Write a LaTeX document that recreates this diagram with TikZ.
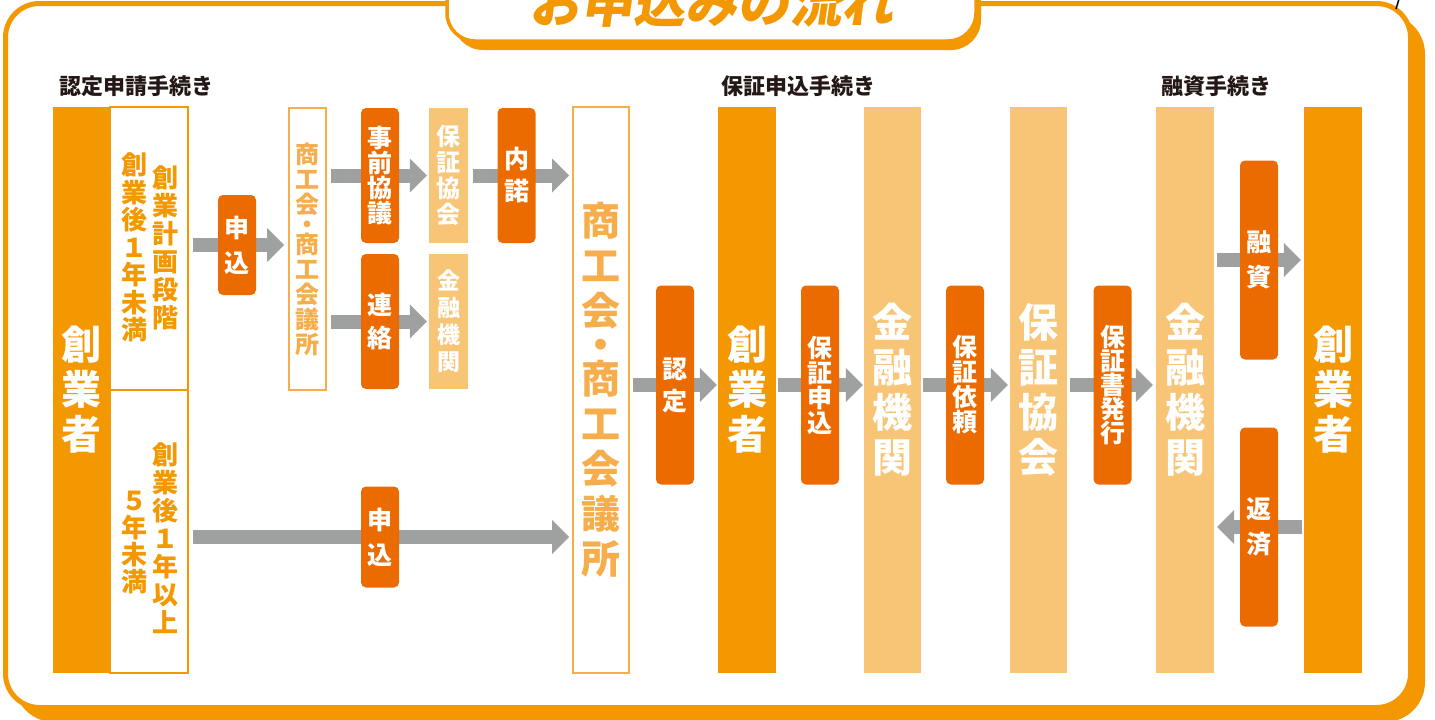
\documentclass[tikz,border=0pt]{standalone}
\usepackage{fontspec}
\setmainfont{Noto Sans CJK JP}
\usetikzlibrary{arrows.meta}
\definecolor{orng}{HTML}{F39800}
\definecolor{dorng}{HTML}{EC6B00}
\definecolor{lorng}{HTML}{F8C475}
\definecolor{borng}{HTML}{F6AD4B}
\definecolor{agray}{HTML}{9FA0A0}
\definecolor{ink}{HTML}{231815}
\pgfdeclarelayer{bg}
\pgfdeclarelayer{arr}
\pgfsetlayers{bg,arr,main}
\tikzset{
  col/.style={rectangle, inner sep=0pt, minimum width=57pt, minimum height=566pt, align=center, text=white, font=\bfseries\fontsize{40}{45}\selectfont},
  ocol/.style={col, fill=orng},
  lcol/.style={col, fill=lorng},
  lsmall/.style={rectangle, inner sep=0pt, minimum width=39pt, minimum height=135pt, fill=lorng, align=center, text=white, font=\bfseries\fontsize{24}{26}\selectfont},
  lbl/.style={rectangle, rounded corners=5pt, fill=dorng, inner sep=0pt, minimum width=38pt, minimum height=199pt, align=center, text=white, font=\bfseries\fontsize{25}{25}\selectfont},
  wbox/.style={rectangle, draw=orng, line width=2pt, fill=white, inner sep=0pt, minimum width=78pt, minimum height=283pt},
  obox/.style={rectangle, draw=borng, line width=2pt, fill=white, text=borng, inner sep=0pt, align=center},
  vtxt/.style={inner sep=0pt, align=center, text=orng, font=\bfseries\fontsize{26}{28}\selectfont},
  sect/.style={inner sep=0pt, anchor=west, text=ink, font=\bfseries\fontsize{22}{22}\selectfont},
  garrow/.style={draw=agray, line width=14pt, -{Triangle[width=34pt 0 0, length=17pt 0 0, line width=0pt 0 0]}}
}
\begin{document}
\begin{tikzpicture}[x=1pt,y=-1pt]
\useasboundingbox (0,0) rectangle (1435,720);
\clip (0,0) rectangle (1435,720);

\begin{pgfonlayer}{bg}
  \fill[white] (0,0) rectangle (1435,720);
  % outer frame with shadow
  \fill[orng, rounded corners=40pt] (14,14) rectangle (1425,722);
  \draw[orng, fill=white, line width=5pt, rounded corners=34pt] (5.5,3.5) rectangle (1410.5,707.5);
  % title tab with shadow
  \fill[orng, rounded corners=30pt] (453,-40) rectangle (981,50);
  \draw[orng, fill=white, line width=3.5pt, rounded corners=28pt] (447,-40) rectangle (976,41);
  \draw[black, line width=1.5pt] (1399,-1) -- (1396,9);
\end{pgfonlayer}

\node[font=\bfseries\fontsize{52}{52}\selectfont, text=orng, anchor=base, xslant=0.15, transform shape] (title) at (711,22) {お申込みの流れ};

% section labels
\node[sect] (s1) at (59,86) {認定申請手続き};
\node[sect] (s2) at (721,86) {保証申込手続き};
\node[sect] (s3) at (1161,86) {融資手続き};

% left block
\node[ocol] (u1) at (81.5,390) {創\\業\\者};
\node[wbox] (bA) at (149,248.5) {};
\node[wbox] (bB) at (149,531.5) {};
\node[vtxt] (tA1) at (165,247.5) {創\\業\\計\\画\\段\\階};
\node[vtxt, font=\bfseries\fontsize{26}{27.5}\selectfont] (tA2) at (134,247.5) {創\\業\\後\\１\\年\\未\\満};
\node[vtxt] (tB1) at (165,538.5) {創\\業\\後\\１\\年\\以\\上};
\node[vtxt, font=\bfseries\fontsize{26}{27}\selectfont] (tB2) at (134,542) {５\\年\\未\\満};

\node[obox, minimum width=37pt, minimum height=282pt, font=\bfseries\fontsize{24}{25}\selectfont] (k1) at (307.5,249) {商\\工\\会\\[-5pt]・\\[-5pt]商\\工\\会\\議\\所};

\node[lbl, minimum height=100pt, font=\bfseries\fontsize{25}{35}\selectfont] (l1) at (237,245) {申\\込};
\node[lbl, minimum height=135pt] (l2) at (380,175.5) {事\\前\\協\\議};
\node[lsmall] (h1) at (448.5,175.5) {保\\証\\協\\会};
\node[lbl, minimum height=135pt, font=\bfseries\fontsize{25}{33}\selectfont] (l3) at (380,321.5) {連\\絡};
\node[lsmall, font=\bfseries\fontsize{23}{27}\selectfont] (f1) at (448.5,321.5) {金\\融\\機\\関};
\node[lbl, minimum height=135pt, font=\bfseries\fontsize{25}{32}\selectfont] (l4) at (516.5,175.5) {内\\諾};

\node[obox, minimum width=56pt, minimum height=566pt, font=\bfseries\fontsize{39}{45}\selectfont] (k2) at (601,390) {商\\工\\会\\[-11pt]・\\[-11pt]商\\工\\会\\議\\所};
\node[lbl, minimum height=101pt, font=\bfseries\fontsize{25}{35}\selectfont] (l5) at (380,537) {申\\込};

% middle / right
\node[lbl, font=\bfseries\fontsize{25}{32}\selectfont] (l6) at (675,385) {認\\定};
\node[ocol, minimum width=58pt] (u2) at (747,390) {創\\業\\者};
\node[lbl] (l7) at (820,385) {保\\証\\申\\込};
\node[lcol] (f2) at (892.5,390) {金\\融\\機\\関};
\node[lbl] (l8) at (965,385) {保\\証\\依\\頼};
\node[lcol] (h2) at (1038.5,390) {保\\証\\協\\会};
\node[lbl, font=\bfseries\fontsize{25}{24}\selectfont] (l9) at (1112.5,385) {保\\証\\書\\発\\行};
\node[lcol, minimum width=58pt] (f3) at (1185,390) {金\\融\\機\\関};
\node[lbl, font=\bfseries\fontsize{25}{35}\selectfont] (l10) at (1259,260) {融\\資};
\node[lbl, font=\bfseries\fontsize{25}{35}\selectfont] (l11) at (1259,527) {返\\済};
\node[ocol, minimum width=58pt] (u3) at (1333,390) {創\\業\\者};

\begin{pgfonlayer}{arr}
  \draw[garrow] ([xshift=4pt]bA.east |- l1) -- ([xshift=-4pt]k1.west |- l1);
  \draw[garrow] ([xshift=4pt]k1.east |- l2) -- ([xshift=-2pt]h1.west |- l2);
  \draw[garrow] ([xshift=4pt]k1.east |- l3) -- ([xshift=-2pt]f1.west |- l3);
  \draw[garrow] ([xshift=5pt]h1.east |- l4) -- ([xshift=-3pt]k2.west |- l4);
  \draw[garrow] ([xshift=4pt]bB.east |- l5) -- ([xshift=-3pt]k2.west |- l5);
  \draw[garrow] ([xshift=3pt]k2.east |- l6) -- ([xshift=-1pt]u2.west |- l6);
  \draw[garrow] ([xshift=2pt]u2.east |- l7) -- ([xshift=-1pt]f2.west |- l7);
  \draw[garrow] ([xshift=2pt]f2.east |- l8) -- ([xshift=-2pt]h2.west |- l8);
  \draw[garrow] ([xshift=3pt]h2.east |- l9) -- ([xshift=-3pt]f3.west |- l9);
  \draw[garrow] ([xshift=3pt]f3.east |- l10) -- ([xshift=-3pt]u3.west |- l10);
  \draw[garrow] ([xshift=-2pt]u3.west |- l11) -- ([xshift=3pt]f3.east |- l11);
\end{pgfonlayer}
\end{tikzpicture}
\end{document}
